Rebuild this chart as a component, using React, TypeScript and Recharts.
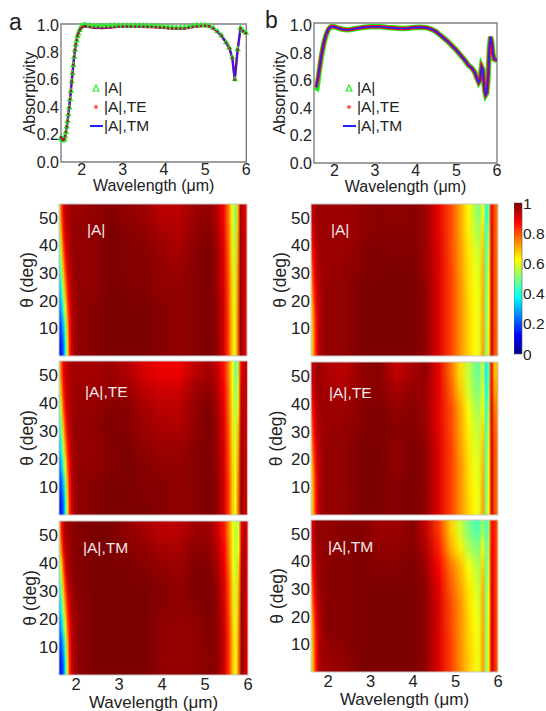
import React from "react";
import { BarChart, Bar, Cell, LineChart, Line, XAxis, YAxis, Legend, ReferenceArea } from "recharts";

const INK = "#222";
const FONT = "'Liberation Sans', Arial, sans-serif";

// line plots, panel a
const waveA = [1.5,1.52,1.54,1.56,1.58,1.6,1.62,1.64,1.66,1.68,1.7,1.72,1.74,1.76,1.78,1.8,1.82,1.84,1.86,1.88,1.9,1.92,1.95,1.98,2.02,2.06,2.1,2.2,2.3,2.4,2.5,2.6,2.7,2.8,2.9,3,3.1,3.2,3.3,3.4,3.5,3.6,3.7,3.8,3.9,4,4.1,4.2,4.3,4.4,4.5,4.6,4.7,4.8,4.9,5,5.1,5.2,5.3,5.4,5.51,5.59,5.66,5.72,5.79,5.86,5.92,5.99];
const aTM = [.18,.17,.16,.16,.17,.19,.22,.26,.3,.35,.4,.46,.52,.59,.65,.71,.77,.82,.86,.89,.92,.94,.96,.975,.985,.99,.99,.985,.98,.98,.978,.98,.982,.985,.987,.988,.988,.988,.987,.987,.987,.986,.985,.984,.982,.98,.977,.975,.973,.973,.975,.98,.985,.99,.992,.993,.99,.975,.95,.92,.87,.83,.76,.6,.82,.975,.955,.94];
const aA = [.18,.17,.16,.16,.17,.19,.22,.26,.3,.35,.4,.46,.52,.59,.65,.71,.77,.82,.86,.89,.92,.94,.965,.985,.995,1,1,.998,.995,.995,.993,.995,.997,.998,.998,.998,.998,.998,.998,.997,.997,.996,.995,.994,.992,.99,.987,.985,.983,.983,.985,.99,.995,.999,1,1,.995,.98,.955,.925,.875,.835,.765,.605,.825,.98,.96,.945];
const aTE = aTM;

// line plots, panel b
const waveB = [1.55,1.56,1.58,1.6,1.62,1.64,1.66,1.68,1.7,1.72,1.74,1.76,1.78,1.8,1.82,1.84,1.86,1.88,1.9,1.92,1.95,2,2.05,2.1,2.2,2.3,2.4,2.5,2.6,2.7,2.8,2.9,3,3.1,3.2,3.3,3.4,3.5,3.6,3.7,3.8,3.9,4,4.1,4.2,4.3,4.4,4.5,4.6,4.7,4.8,4.9,5,5.1,5.2,5.3,5.38,5.45,5.5,5.55,5.58,5.62,5.65,5.68,5.7,5.72,5.75,5.78,5.81,5.84,5.87,5.9,5.93,5.96,6];
const bTM = [.55,.56,.59,.62,.66,.7,.74,.78,.81,.84,.87,.895,.915,.935,.95,.965,.975,.982,.987,.99,.992,.99,.985,.98,.972,.968,.97,.975,.98,.985,.988,.99,.99,.99,.988,.985,.983,.98,.978,.977,.978,.982,.985,.986,.985,.98,.97,.955,.93,.905,.88,.85,.82,.785,.75,.71,.69,.66,.62,.585,.6,.7,.68,.58,.52,.495,.51,.62,.82,.917,.88,.79,.755,.75,.75];
const bA = [.525,.53,.56,.6,.65,.69,.73,.77,.8,.835,.865,.89,.91,.93,.945,.96,.97,.978,.985,.99,.992,.99,.985,.98,.972,.968,.97,.975,.98,.985,.988,.99,.99,.99,.988,.985,.983,.98,.978,.977,.978,.982,.985,.986,.985,.98,.97,.955,.93,.905,.88,.85,.82,.785,.75,.71,.69,.66,.62,.585,.6,.7,.68,.58,.52,.495,.51,.62,.82,.917,.88,.79,.755,.75,.75];
const bTE = bTM;

// heat maps: columns in wavelength, rows from top to bottom in theta, cells in percent
const thetaRows = [51.6, 44.7, 37.8, 30.9, 24.1, 17.2, 10.3, 3.4];
const heatWaveA = [1.6,1.65,1.7,1.75,1.8,1.85,1.9,2,2.4,2.8,3.2,3.6,4,4.4,4.8,5.1,5.3,5.45,5.55,5.65,5.72,5.78,5.85,5.92,6];
const heatWaveB = [1.6,1.65,1.7,1.75,1.8,1.9,2,2.4,2.8,3.2,3.6,4,4.3,4.6,4.9,5.1,5.3,5.45,5.55,5.65,5.72,5.78,5.85,5.92,6];

const heatA = [
  [58,78,89,93,95,96,97,97,98,99,98,97,94,94,97,98,95,88,78,63,50,68,96,92,88],
  [52,70,85,92,94,95,97,98,98,100,99,98,96,95,98,99,96,89,79,64,52,69,97,93,89],
  [42,60,78,88,93,95,97,98,98,100,99,99,97,96,99,100,97,90,80,65,55,71,97,93,89],
  [36,50,68,82,90,94,96,98,98,100,99,99,98,97,99,100,97,91,81,66,57,73,97,93,89],
  [28,40,56,72,85,92,95,98,98,100,100,99,98,98,99,100,97,91,82,67,58,74,97,93,89],
  [20,30,44,60,78,88,94,98,99,100,100,100,99,98,99,100,98,92,82,67,59,75,98,93,89],
  [15,20,30,48,70,86,93,98,99,100,100,100,99,98,99,100,98,92,83,68,60,76,98,93,89],
  [12,15,22,40,65,85,92,98,99,100,100,100,99,98,99,100,98,92,83,68,60,76,98,93,89],
];
const heatATE = [
  [58,78,88,92,94,95,96,96,96,97,95,91,89,89,94,96,93,86,76,62,48,56,88,94,89],
  [52,70,85,91,94,95,96,97,97,98,97,94,92,92,97,98,95,88,78,63,50,60,92,94,89],
  [42,60,78,88,93,95,96,97,98,99,99,96,94,94,98,100,96,89,79,64,53,64,94,94,89],
  [36,50,68,82,90,94,96,98,98,100,99,97,96,95,98,100,97,90,80,65,56,68,95,94,89],
  [28,40,56,72,85,92,95,98,98,99,100,98,97,97,99,100,97,91,81,66,58,71,96,94,89],
  [20,30,44,60,78,88,94,98,98,99,100,99,98,98,99,100,97,91,82,67,59,73,97,94,89],
  [15,20,30,48,70,86,93,98,99,100,100,99,99,98,99,100,98,92,83,68,60,75,97,94,89],
  [12,15,22,40,65,85,92,98,99,100,100,100,99,98,99,100,98,92,83,68,60,76,98,94,89],
];
const heatATM = [
  [60,84,92,96,97,98,98,99,100,100,98,96,94,94,97,97,92,85,74,62,55,58,90,94,89],
  [54,74,88,94,96,97,98,99,100,100,99,98,96,96,99,98,94,87,76,62,55,62,93,94,89],
  [44,62,78,90,95,97,98,99,100,100,100,99,98,97,100,99,96,89,78,63,56,68,95,94,89],
  [36,50,68,82,91,95,97,99,100,100,100,100,99,98,100,100,97,90,80,65,57,70,96,94,89],
  [28,40,56,72,85,92,95,98,100,100,100,100,99,98,99,100,98,91,81,66,58,72,97,94,89],
  [20,30,44,60,78,88,94,98,100,100,100,100,98,98,98,100,98,92,82,67,59,74,97,94,89],
  [15,20,30,48,70,86,93,98,100,100,100,100,98,98,98,99,98,92,83,68,60,75,97,94,89],
  [12,15,22,40,65,85,92,98,100,100,100,100,98,98,98,99,98,92,83,68,60,76,98,94,89],
];
const heatB = [
  [90,94,96,97,97,97,97,97,98,99,98,99,97,90,80,72,63,55,50,62,40,50,88,80,74],
  [86,92,95,96,97,97,97,97,98,99,99,99,97,90,80,72,64,57,54,66,42,55,90,80,74],
  [80,88,93,95,96,97,97,97,99,100,99,99,97,91,80,73,65,60,57,68,45,58,90,80,75],
  [72,84,91,94,96,97,97,98,99,100,100,100,97,91,81,73,66,61,59,70,46,60,91,80,75],
  [66,80,88,93,95,97,98,98,100,100,100,100,98,91,81,74,66,62,60,70,48,62,91,80,75],
  [62,74,85,91,95,97,98,98,100,100,100,100,98,91,81,74,67,63,60,71,48,62,92,80,75],
  [60,72,83,90,95,97,98,98,100,100,100,100,98,91,81,74,67,63,60,71,50,63,92,80,75],
  [58,70,82,90,95,97,98,98,100,100,100,100,98,91,81,74,67,63,60,72,50,64,92,80,75],
];
const heatBTE = [
  [90,94,96,97,97,96,95,94,98,99,93,96,98,90,76,66,57,50,47,58,36,48,87,68,70],
  [86,92,95,96,97,97,96,96,98,99,96,98,97,90,78,68,58,52,50,60,38,52,88,72,72],
  [80,88,93,95,96,97,97,97,99,100,98,99,97,90,80,72,62,56,53,63,42,55,90,76,73],
  [72,84,91,94,96,97,97,98,99,100,99,99,97,90,80,72,64,58,56,66,44,58,90,78,74],
  [66,80,88,93,95,97,98,98,100,100,98,100,98,91,81,73,65,60,58,68,46,60,91,80,75],
  [62,74,85,91,95,97,98,98,100,100,98,100,98,91,81,74,66,61,59,70,47,61,92,80,75],
  [60,72,83,90,95,97,98,98,100,100,99,100,98,91,81,74,66,62,60,71,48,62,92,80,75],
  [58,70,82,90,95,97,98,98,100,100,99,100,98,91,81,74,67,63,60,72,50,63,92,80,75],
];
const heatBTM = [
  [88,93,96,98,98,98,98,99,99,97,97,99,93,82,67,58,50,46,45,54,44,52,86,85,76],
  [84,91,95,97,98,98,98,99,100,98,98,99,95,85,70,64,55,52,50,63,47,56,88,85,76],
  [78,88,93,96,97,98,99,99,100,99,99,100,97,88,76,70,62,58,54,67,48,58,90,85,76],
  [72,84,91,95,97,98,99,99,100,100,100,100,98,90,78,72,65,60,57,70,50,60,91,85,76],
  [66,80,88,93,96,98,99,99,100,100,100,100,98,91,80,74,66,62,58,71,50,62,91,85,76],
  [62,74,85,91,95,98,99,99,100,100,100,100,98,91,80,74,67,63,60,71,51,63,92,85,76],
  [60,72,83,90,95,97,98,99,100,100,100,100,98,91,81,74,67,64,60,72,52,64,92,85,76],
  [58,70,82,90,95,97,97,98,100,100,100,100,98,91,81,74,68,64,60,72,52,64,92,85,76],
];

const thetaTicks = [10, 20, 30, 40, 50];
const waveTicks = [2, 3, 4, 5, 6];
const absorbTicks = [0, 0.2, 0.4, 0.6, 0.8, 1];
const absorbMinorTicks = [0, 0.1, 0.2, 0.3, 0.4, 0.5, 0.6, 0.7, 0.8, 0.9, 1];
const colorbarTicks = [0, 0.2, 0.4, 0.6, 0.8, 1];
const jetStops = [0, 0.125, 0.375, 0.625, 0.875, 1];
const jetColors = [[0, 0, 135], [0, 0, 255], [0, 255, 255], [255, 255, 0], [255, 0, 0], [125, 0, 0]];

function jet(v: number) {
  let i = 0;
  while (i < jetStops.length - 2 && v > jetStops[i + 1]) i++;
  const t = Math.max(0, Math.min(1, (v - jetStops[i]) / (jetStops[i + 1] - jetStops[i])));
  const c = jetColors[i].map((a, k) => Math.round(a + (jetColors[i + 1][k] - a) * t));
  return `rgb(${c[0]},${c[1]},${c[2]})`;
}

const Triangle = (props: any) => {
  const { cx, cy } = props;
  if (cx == null || cy == null) return <g />;
  return <path d={`M${cx} ${cy - 2.2}L${cx + 2.2} ${cy + 1.6}L${cx - 2.2} ${cy + 1.6}Z`} fill="none" stroke="#22f022" strokeWidth={1.2} />;
};

const legendRows = ["|A|", "|A|,TE", "|A|,TM"];
const LineLegend = () => (
  <div style={{ fontFamily: FONT, fontSize: 15.5, color: INK, lineHeight: "19.2px" }}>
    {legendRows.map((name, i) => (
      <div key={name} style={{ display: "flex", alignItems: "center", height: 19.2 }}>
        <svg width={14} height={10} style={{ marginRight: 1 }}>
          {i === 0 && <path d="M7 2L10 8L4 8Z" fill="none" stroke="#22f022" strokeWidth={1.2} />}
          {i === 1 && <circle cx={7} cy={5} r={2} fill="#ff5a5a" />}
          {i === 2 && <line x1={1} x2={14} y1={5} y2={5} stroke="#2222ff" strokeWidth={2} />}
        </svg>
        {name}
      </div>
    ))}
  </div>
);

type LineProps = {
  left: number; right: number; top: number; bottom: number; yMax: number;
  data: any[]; legendLeft: number; haloA: number; haloTE: number; lineTM: number; markers: boolean; titleOffset: number;
};

const AbsorbPlot = ({ left, right, top, bottom, yMax, data, legendLeft, haloA, haloTE, lineTM, markers, titleOffset }: LineProps) => {
  const axisW = 42;
  const chartLeft = left - axisW;
  const tickStyle = { fontSize: 16, fill: INK, fontFamily: FONT };
  return (
    <div style={{ position: "absolute", left: chartLeft, top: 0 }}>
      <LineChart width={right - chartLeft + 8} height={bottom + 38} data={data} margin={{ top, left: 0, right: 8, bottom: 0 }}>
        <XAxis type="number" dataKey="w" domain={[1.5, 6]} ticks={waveTicks} allowDecimals={false} tickLine={false} axisLine={false} tickSize={0} tickMargin={2} height={38} tick={tickStyle}
          label={{ value: "Wavelength (μm)", position: "insideBottom", offset: 9, fontSize: 16, fill: INK, fontFamily: FONT }} />
        <XAxis xAxisId="bottomTicks" dataKey="w" type="number" domain={[1.5, 6]} ticks={waveTicks} mirror tick={false} axisLine={false} tickSize={3} stroke="#666" />
        <XAxis xAxisId="topTicks" dataKey="w" orientation="top" type="number" domain={[1.5, 6]} ticks={waveTicks} mirror tick={false} axisLine={false} tickSize={3} stroke="#666" />
        <YAxis domain={[0, yMax]} ticks={absorbTicks} width={axisW} tickLine={false} axisLine={false} tickSize={0} tickMargin={2} tick={tickStyle} tickFormatter={(v: number) => v.toFixed(1)}
          label={{ value: "Absorptivity", angle: -90, position: "insideLeft", offset: titleOffset, fontSize: 16, fill: INK, fontFamily: FONT, style: { textAnchor: "middle" } }} />
        <YAxis yAxisId="leftTicks" domain={[0, yMax]} ticks={absorbMinorTicks} mirror tick={false} axisLine={false} tickSize={2.5} stroke="#666" />
        <YAxis yAxisId="rightTicks" orientation="right" domain={[0, yMax]} ticks={absorbMinorTicks} mirror tick={false} axisLine={false} tickSize={2.5} stroke="#666" />
        <ReferenceArea x1={1.5} x2={6} y1={0} y2={yMax} fill="none" stroke="#808080" strokeWidth={1.4} />
        {/* unstroked series that keep the inward tick axes alive */}
        <Line xAxisId="bottomTicks" yAxisId="leftTicks" dataKey="tm" stroke="none" dot={false} isAnimationActive={false} />
        <Line xAxisId="topTicks" yAxisId="rightTicks" dataKey="tm" stroke="none" dot={false} isAnimationActive={false} />
        <Line dataKey="a" stroke="#1ef01e" strokeWidth={haloA} dot={markers ? <Triangle /> : false} isAnimationActive={false} />
        <Line dataKey="te" stroke="#f01818" strokeWidth={haloTE} dot={markers ? { r: 1.3, fill: "#a81848", stroke: "none" } : false} isAnimationActive={false} />
        <Line dataKey="tm" stroke="#2020ff" strokeWidth={lineTM} dot={false} isAnimationActive={false} />
        <Legend layout="vertical" align="center" verticalAlign="middle" wrapperStyle={{ left: legendLeft - chartLeft, top: 78, width: 70 }} content={<LineLegend />} />
      </LineChart>
    </div>
  );
};

type HeatProps = {
  id: string; left: number; right: number; top: number; bottom: number; waves: number[]; rows: number[][];
  tag: string; tagX: number; tagY: number; showX?: boolean; titleOffset: number;
};

const HeatPlot = ({ id, left, right, top, bottom, waves, rows, tag, tagX, tagY, showX, titleOffset }: HeatProps) => {
  const axisW = 46;
  const first = waves[0];
  const last = waves[waves.length - 1];
  const data = thetaRows.map((theta) => ({ theta, wave: first, span: [first, last] }));
  const extra = showX ? 40 : 1;
  const width = right - left + axisW + 6;
  const height = bottom - top + 1 + extra;
  const margin = { top: 1, left: 0, right: 6, bottom: extra };
  return (
    <div className="heat-plot" style={{ position: "absolute", left: left - axisW, top: top - 1 }}>
      <BarChart layout="vertical" width={width} height={height} data={data} barCategoryGap={0} barGap={0} margin={{ ...margin, left: axisW, bottom: showX ? 5 : 1 }}>
        <defs>
          {rows.map((row, r) => (
            <linearGradient key={r} id={`${id}-${r}`} x1="0" x2="1" y1="0" y2="0">
              {row.map((v, c) => (
                <stop key={c} offset={(waves[c] - first) / (last - first)} stopColor={jet(v / 100)} />
              ))}
            </linearGradient>
          ))}
        </defs>
        <XAxis type="number" domain={[first, last]} ticks={waveTicks} hide={!showX} tickLine={false} axisLine={false} tickSize={0} tickMargin={3} height={35}
          tick={{ fontSize: 16.5, fill: INK, fontFamily: FONT }}
          label={{ value: "Wavelength (μm)", position: "insideBottom", offset: 2, fontSize: 17, fill: INK, fontFamily: FONT }} />
        <YAxis type="category" dataKey="theta" hide />
        <Bar dataKey="span" isAnimationActive={false}>
          {rows.map((_, r) => (
            <Cell key={r} fill={`url(#${id}-${r})`} stroke={`url(#${id}-${r})`} strokeWidth={0.8} />
          ))}
        </Bar>
      </BarChart>
      {/* theta runs as a plain number axis, so it sits in a second chart laid over the row bars */}
      <div style={{ position: "absolute", left: 0, top: 0 }}>
        <LineChart width={width} height={height} data={data} margin={margin}>
          <XAxis type="number" dataKey="wave" domain={[first, last]} hide />
          <YAxis type="number" domain={[0, 55]} ticks={thetaTicks} width={axisW} tickLine={false} axisLine={false} tickSize={0} tickMargin={1}
            tick={{ fontSize: 17, fill: INK, fontFamily: FONT }}
            label={{ value: "θ (deg)", angle: -90, position: "insideLeft", offset: titleOffset, fontSize: 17.5, fill: INK, fontFamily: FONT, style: { textAnchor: "middle" } }} />
          <ReferenceArea x1={first} x2={last} y1={0} y2={55} fill="none" stroke="#c8c8c8" />
          <Line dataKey="theta" stroke="none" dot={false} isAnimationActive={false} />
        </LineChart>
      </div>
      <div style={{ position: "absolute", left: tagX - left + axisW, top: tagY - top + 1, color: "#f4e8e8", fontFamily: FONT, fontSize: 15.5, whiteSpace: "nowrap", lineHeight: "18px" }}>{tag}</div>
    </div>
  );
};

const Colorbar = () => {
  const data = [{ name: "scale", span: [0, 1] }];
  return (
    <div style={{ position: "absolute", left: 514, top: 194 }}>
      <BarChart width={32} height={169} data={data} barCategoryGap={0} margin={{ top: 9, left: 0, right: 0, bottom: 9 }}>
        <defs>
          <linearGradient id="jetBar" x1="0" x2="0" y1="1" y2="0">
            {jetStops.map((s, i) => (
              <stop key={s} offset={s} stopColor={`rgb(${jetColors[i].join(",")})`} />
            ))}
          </linearGradient>
        </defs>
        <XAxis dataKey="name" hide />
        <YAxis orientation="right" domain={[0, 1]} ticks={colorbarTicks} width={24} tickLine={false} axisLine={false} tickSize={0} tickMargin={1}
          tick={{ fontSize: 15.5, fill: INK, fontFamily: FONT }} interval={0} />
        <Bar dataKey="span" fill="url(#jetBar)" stroke="#555" strokeWidth={0.6} isAnimationActive={false} />
      </BarChart>
    </div>
  );
};

const zip = (w: number[], a: number[], te: number[], tm: number[]) => w.map((v, i) => ({ w: v, a: a[i], te: te[i], tm: tm[i] }));
const letterStyle = { position: "absolute", fontFamily: FONT, fontSize: 23, color: INK, lineHeight: "23px" } as React.CSSProperties;

export default function App() {
  return (
    <div style={{ position: "absolute", left: 0, top: 0, width: 546, height: 711, background: "#fff", overflow: "hidden" }}>
      {/* soften the steps between theta rows, the way the original contour plot runs smoothly in theta */}
      <style>{`.heat-plot .recharts-bar-rectangles { filter: url(#thetaSmooth); }`}</style>
      <svg width={0} height={0} style={{ position: "absolute" }}>
        <filter id="thetaSmooth" x="-2%" y="-10%" width="104%" height="120%" colorInterpolationFilters="sRGB">
          <feGaussianBlur stdDeviation="0.6 7" />
          <feComponentTransfer>
            <feFuncA type="discrete" tableValues="0 1" />
          </feComponentTransfer>
        </filter>
      </svg>
      <div style={{ ...letterStyle, left: 9, top: 11 }}>a</div>
      <div style={{ ...letterStyle, left: 265, top: 9 }}>b</div>
      <AbsorbPlot left={60.7} right={246} top={24} bottom={162} yMax={1.007} data={zip(waveA, aA, aTE, aTM)} legendLeft={89} haloA={1.2} haloTE={2.6} lineTM={1.8} markers titleOffset={10} />
      <AbsorbPlot left={314} right={497} top={23} bottom={163} yMax={1.017} data={zip(waveB, bA, bTE, bTM)} legendLeft={342} haloA={5.5} haloTE={3.6} lineTM={1.6} markers={false} titleOffset={7} />

      <HeatPlot id="a1" left={59} right={247} top={204} bottom={356} waves={heatWaveA} rows={heatA} tag="|A|" tagX={87} tagY={221} titleOffset={14} />
      <HeatPlot id="a2" left={59} right={247.5} top={361} bottom={515} waves={heatWaveA} rows={heatATE} tag="|A|,TE" tagX={85} tagY={383} titleOffset={14} />
      <HeatPlot id="a3" left={59} right={248} top={521} bottom={675} waves={heatWaveA} rows={heatATM} tag="|A|,TM" tagX={83} tagY={539} showX titleOffset={17} />

      <HeatPlot id="b1" left={311} right={498} top={204} bottom={356} waves={heatWaveB} rows={heatB} tag="|A|" tagX={331} tagY={221} titleOffset={15} />
      <HeatPlot id="b2" left={311} right={498} top={362} bottom={515} waves={heatWaveB} rows={heatBTE} tag="|A|,TE" tagX={329} tagY={384} titleOffset={11} />
      <HeatPlot id="b3" left={311} right={498} top={520} bottom={672} waves={heatWaveB} rows={heatBTM} tag="|A|,TM" tagX={328} tagY={538} showX titleOffset={12} />
      <Colorbar />
    </div>
  );
}
